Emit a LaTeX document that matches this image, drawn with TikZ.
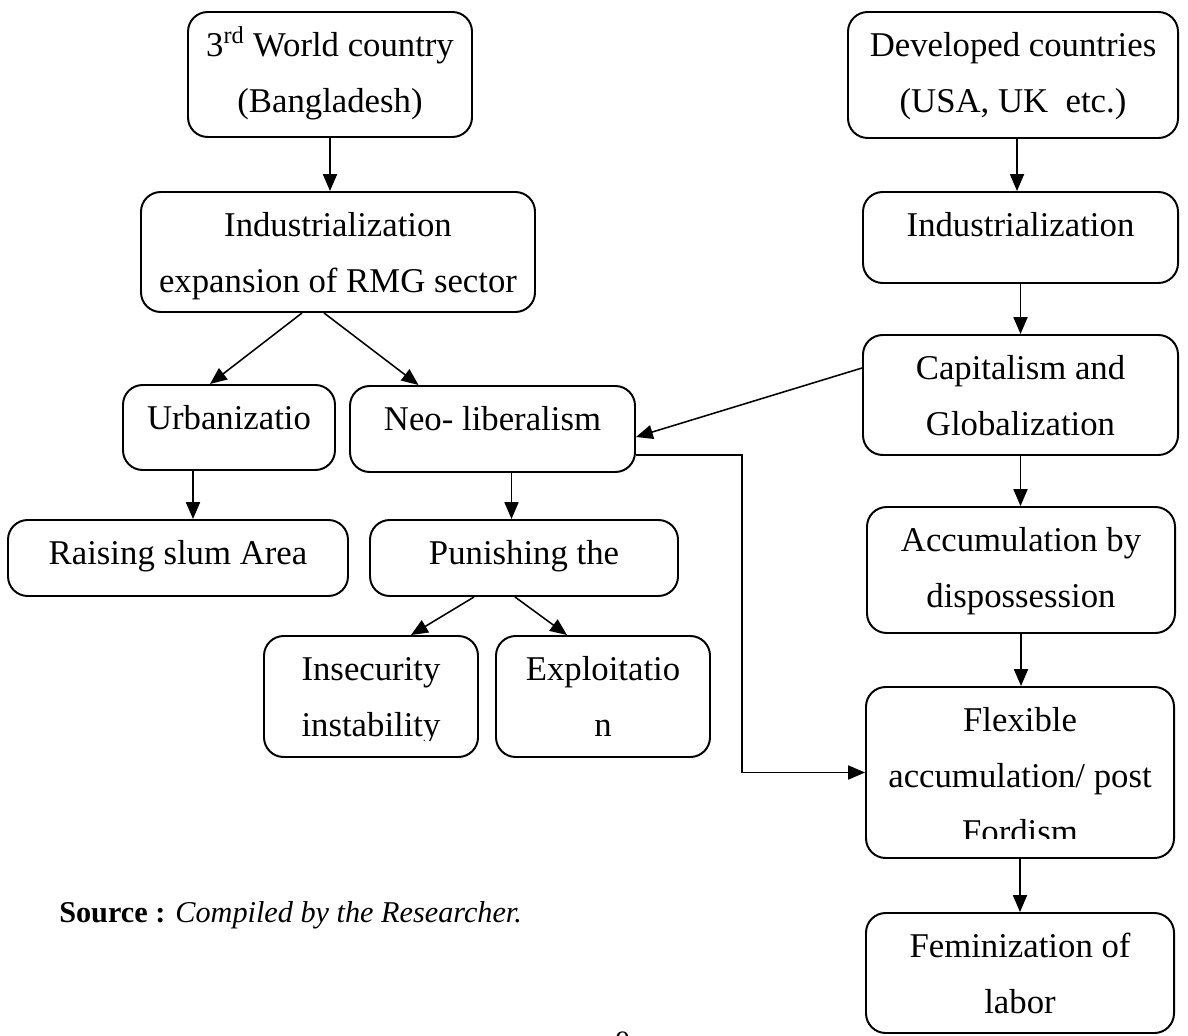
\documentclass[tikz,border=0pt]{standalone}
\usepackage{fontspec}
\setmainfont{Liberation Serif}
\usetikzlibrary{arrows.meta,fit,calc}

\begin{document}
\begin{tikzpicture}[x=0.025cm, y=-0.025cm,
    boxnode/.style={draw, line width=1.4pt, rounded corners=14pt, inner sep=0pt},
    boxtext/.style={anchor=north, inner sep=0pt, align=center,
                    font=\fontsize{24.7}{40}\selectfont},
    arr/.style={-{Triangle[length=12pt, width=10pt]}, line width=1.1pt}]
\useasboundingbox (0,0) rectangle (1188,1036);

% left branch
\node[boxnode, fit={(188,12) (472,137)}] (third) {};
\node[boxtext] at ([yshift=-4pt]third.north)
  {\strut 3\textsuperscript{rd} World country\\(Bangladesh)};
\node[boxnode, fit={(141,192) (535,312)}] (indl) {};
\node[boxtext] at ([yshift=-4pt]indl.north)
  {\strut Industrialization\\expansion of RMG sector};
\node[boxnode, fit={(123,385) (335,470)}] (urb) {};
\node[boxtext] at ([yshift=-4pt]urb.north) {\strut Urbanizatio};
\node[boxnode, fit={(350,386) (635,472)}] (neo) {};
\node[boxtext] at ([yshift=-4pt]neo.north) {\strut Neo- liberalism};
\node[boxnode, fit={(8,520) (348,596)}] (slum) {};
\node[boxtext] at ([yshift=-4pt]slum.north) {\strut Raising slum Area};
\node[boxnode, fit={(370,520) (678,596)}] (pun) {};
\node[boxtext] at ([yshift=-4pt]pun.north) {\strut Punishing the};
\node[boxnode, fit={(264,636) (478,757)}] (insec) {};
\begin{scope}
  \clip (264,636) rectangle (478,740);
  \node[boxtext] at ([yshift=-4pt]insec.north) {\strut Insecurity\\instability};
\end{scope}
\node[boxnode, fit={(496,636) (710,757)}] (expl) {};
\node[boxtext] at ([yshift=-4pt]expl.north) {\strut Exploitatio\\n};

% right branch
\node[boxnode, fit={(848,12) (1178,138)}] (dev) {};
\node[boxtext] at ([yshift=-4pt]dev.north)
  {\strut Developed countries\\(USA, UK~ etc.)};
\node[boxnode, fit={(863,192) (1178,283)}] (indr) {};
\node[boxtext] at ([yshift=-4pt]indr.north) {\strut Industrialization};
\node[boxnode, fit={(863,335) (1178,455)}] (cap) {};
\node[boxtext] at ([yshift=-4pt]cap.north) {\strut Capitalism and\\Globalization};
\node[boxnode, fit={(867,507) (1175,633)}] (accum) {};
\node[boxtext] at ([yshift=-4pt]accum.north) {\strut Accumulation by\\dispossession};
\node[boxnode, fit={(866,687) (1174,858)}] (flex) {};
\begin{scope}
  \clip (866,687) rectangle (1174,838);
  \node[boxtext] at ([yshift=-4pt]flex.north)
    {\strut Flexible\\accumulation/ post\\Fordism};
\end{scope}
\node[boxnode, fit={(866,913) (1174,1033)}] (fem) {};
\node[boxtext] at ([yshift=-4pt]fem.north) {\strut Feminization of\\labor};

% source line and page number
\node[anchor=base west, inner sep=0pt, font=\fontsize{21.5}{25}\selectfont] (src)
  at (59,922) {\textbf{Source :} \textit{Compiled by the Researcher.}};
\node[anchor=north, inner sep=0pt, font=\fontsize{20}{24}\selectfont] (pg)
  at (623,1032) {9};

% connectors
\draw[arr] (third.south) -- (third.south |- indl.north);
\draw[arr] ($(indl.south)+(-36,0)$) -- ($(urb.north)+(-19,0)$);
\draw[arr] ($(indl.south)+(-14,0)$) -- ($(neo.north)+(-74,0)$);
\draw[arr] ($(urb.south)+(-36,0)$) coordinate (u) -- (u |- slum.north);
\draw[arr] ($(neo.south)+(19,0)$) coordinate (n) -- (n |- pun.north);
\draw[arr] ($(pun.south)+(-50,0)$) -- ($(insec.north)+(40,0)$);
\draw[arr] ($(pun.south)+(-9,0)$) -- ($(expl.north)+(-36,0)$);

\draw[arr] ($(dev.south)+(4,0)$) coordinate (d) -- (d |- indr.north);
\draw[arr] (indr.south) -- (indr.south |- cap.north);
\draw[arr] (cap.south) -- (cap.south |- accum.north);
\draw[arr] (accum.south) -- (accum.south |- flex.north);
\draw[arr] (flex.south) -- (flex.south |- fem.north);

\draw[arr] ($(cap.west)+(0,-27)$) -- ($(neo.east)+(0,8)$);
\draw[arr] ($(neo.east)+(0,26)$) -| ($(flex.west)+(-123,0)$) -- (flex.west);
\end{tikzpicture}
\end{document}
